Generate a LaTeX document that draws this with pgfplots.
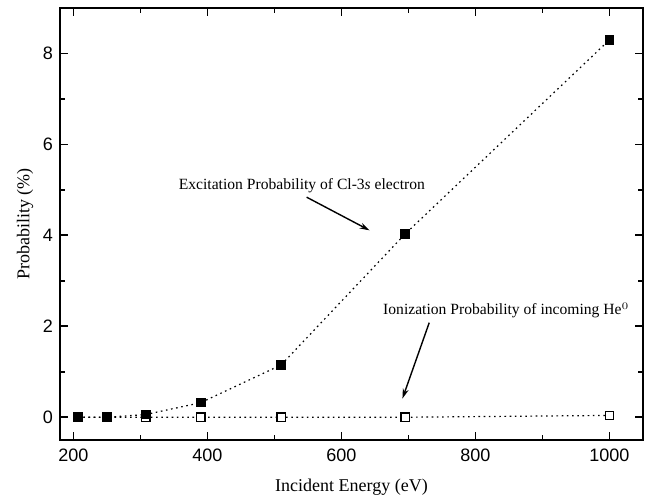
\documentclass[border=0pt]{standalone}
\usepackage{fontspec}
\setmainfont{Liberation Serif}
\newfontfamily\arialfont{Liberation Sans}
\usepackage{pgfplots}
\pgfplotsset{compat=1.18}
\usetikzlibrary{arrows.meta}

\begin{document}
\begin{tikzpicture}
\begin{axis}[
  name=ax,
  scale only axis,
  width=291.5pt, height=216pt,
  xmin=180, xmax=1050, ymin=-0.5, ymax=9,
  xtick={200,400,600,800,1000},
  minor xtick={300,500,700,900},
  ytick={0,2,4,6,8},
  minor ytick={1,3,5,7},
  tick align=inside,
  major tick length=4pt, minor tick length=2.5pt,
  every tick/.style={black, line width=0.9pt},
  axis line style={line width=1pt},
  /pgf/number format/assume math mode=true,
  /pgf/number format/1000 sep={},
  tick label style={font=\arialfont\fontsize{9}{10}\selectfont},
  xticklabel style={yshift=-1pt},
  xlabel={Incident Energy (eV)},
  ylabel={Probability (\%)},
  every axis x label/.style={at={(axis description cs:0.5,-0.109)}, anchor=center,
    font=\fontsize{9}{10}\selectfont},
  every axis y label/.style={at={(axis description cs:-0.060,0.5)}, anchor=center,
    rotate=90, font=\fontsize{9}{10}\selectfont},
  clip=false,
]
  %% ionization probability of incoming He0 (open squares)
  \addplot[black, line width=0.6pt, dash pattern=on 0.8pt off 1.8pt,
           mark=square*, mark size=2.1pt,
           mark options={solid, fill=white, line width=0.6pt}]
    coordinates {
      (207,0)(250,0)(308,0)(390,0)(510,0)(695,0)(1000,0.04)
    };
  %% excitation probability of Cl-3s electron (filled squares)
  \addplot[black, line width=0.6pt, dash pattern=on 0.8pt off 1.8pt,
           mark=square*, mark size=2.1pt,
           mark options={solid, fill=black}]
    coordinates {
      (207,0)(250,0)(308,0.06)(390,0.32)(510,1.15)(695,4.03)(1000,8.3)
    };
  %% annotations
  \node[font=\fontsize{7.8}{9}\selectfont] at (axis cs:541,5.1)
    {Excitation Probability of Cl-3\textit{s} electron};
  \draw[line width=0.7pt, -{Stealth[length=5pt,width=3pt]}]
    (axis cs:548,4.84) -- (axis cs:642,4.11);
  \node[font=\fontsize{7.8}{9}\selectfont] at (axis cs:846,2.35)
    {Ionization Probability of incoming He$^{0}$};
  \draw[line width=0.7pt, -{Stealth[length=5pt,width=3pt]}]
    (axis cs:731,2.08) -- (axis cs:691,0.41);
\end{axis}
\path ([shift={(-30pt,-29.5pt)}]ax.south west) rectangle ([shift={(4.5pt,4pt)}]ax.north east);
\end{tikzpicture}
\end{document}
